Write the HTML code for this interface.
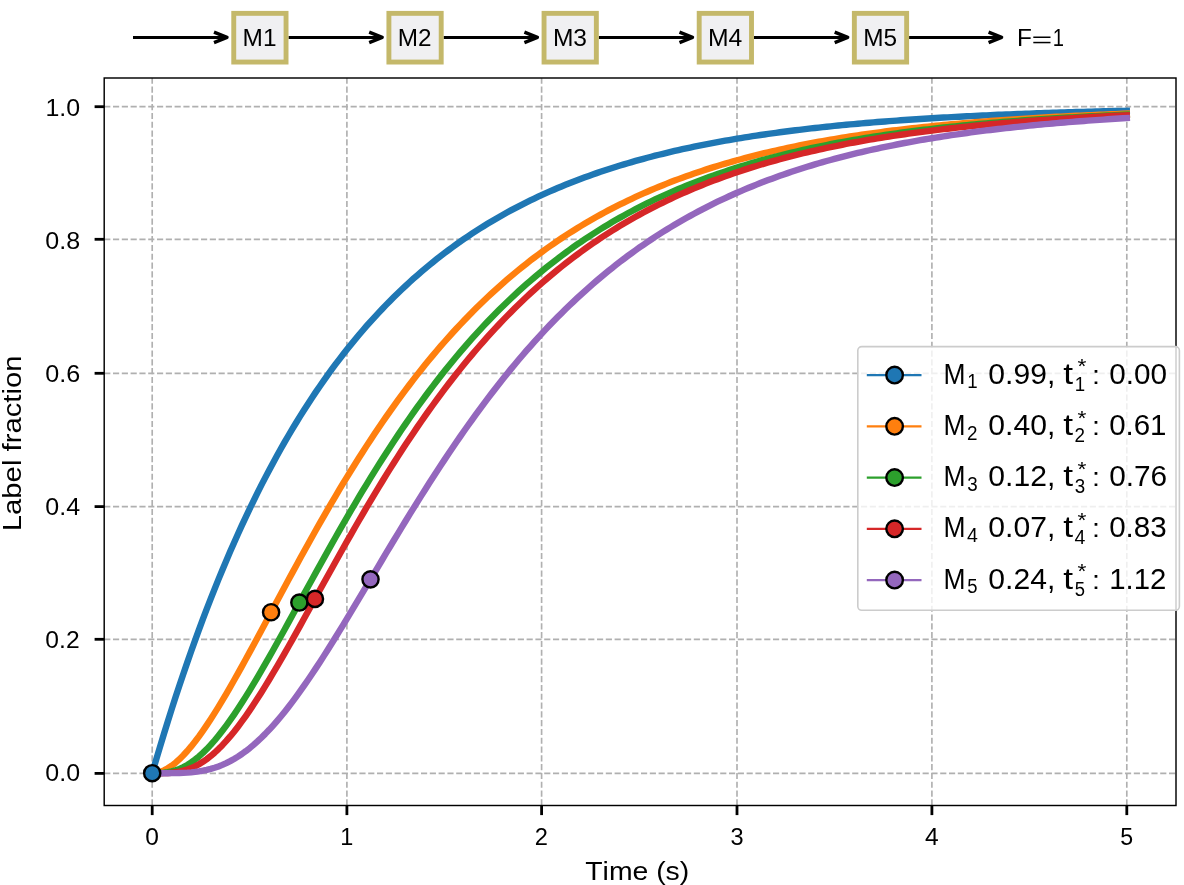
<!DOCTYPE html>
<html><head><meta charset="utf-8"><title>Label fraction</title>
<style>
html,body{margin:0;padding:0;background:#fff;}
body{width:1184px;height:885px;overflow:hidden;}
svg{display:block;will-change:transform;}
text{font-family:"Liberation Sans",sans-serif;font-kerning:none;}
</style></head><body>
<svg width="1184" height="885" viewBox="0 0 1184 885">
<rect width="1184" height="885" fill="#fff"/>
<line x1="133.0" y1="37.4" x2="226.0" y2="37.4" stroke="#000" stroke-width="3"/>
<polyline points="214.0,32.199999999999996 227.0,37.4 214.0,42.6" fill="none" stroke="#000" stroke-width="3.4" stroke-linejoin="round"/>
<line x1="288.5" y1="37.4" x2="381.2" y2="37.4" stroke="#000" stroke-width="3"/>
<polyline points="369.2,32.199999999999996 382.2,37.4 369.2,42.6" fill="none" stroke="#000" stroke-width="3.4" stroke-linejoin="round"/>
<line x1="443.6" y1="37.4" x2="536.4" y2="37.4" stroke="#000" stroke-width="3"/>
<polyline points="524.4,32.199999999999996 537.4,37.4 524.4,42.6" fill="none" stroke="#000" stroke-width="3.4" stroke-linejoin="round"/>
<line x1="598.8" y1="37.4" x2="691.5" y2="37.4" stroke="#000" stroke-width="3"/>
<polyline points="679.5,32.199999999999996 692.5,37.4 679.5,42.6" fill="none" stroke="#000" stroke-width="3.4" stroke-linejoin="round"/>
<line x1="754.0" y1="37.4" x2="846.7" y2="37.4" stroke="#000" stroke-width="3"/>
<polyline points="834.7,32.199999999999996 847.7,37.4 834.7,42.6" fill="none" stroke="#000" stroke-width="3.4" stroke-linejoin="round"/>
<line x1="909.1" y1="37.4" x2="1000.6" y2="37.4" stroke="#000" stroke-width="3"/>
<polyline points="988.6,32.199999999999996 1001.6,37.4 988.6,42.6" fill="none" stroke="#000" stroke-width="3.4" stroke-linejoin="round"/>
<rect x="233.75" y="13.35" width="52.30" height="48.70" fill="#f0f0f2" stroke="#c4b86a" stroke-width="4.9"/>
<text transform="translate(242.59,45.60) scale(1.0016,1)" font-size="24.40" fill="#000">M1</text>
<rect x="388.90" y="13.35" width="52.30" height="48.70" fill="#f0f0f2" stroke="#c4b86a" stroke-width="4.9"/>
<text transform="translate(397.75,45.60) scale(0.9968,1)" font-size="24.40" fill="#000">M2</text>
<rect x="544.05" y="13.35" width="52.30" height="48.70" fill="#f0f0f2" stroke="#c4b86a" stroke-width="4.9"/>
<text transform="translate(552.88,45.60) scale(1.0070,1)" font-size="24.40" fill="#000">M3</text>
<rect x="699.20" y="13.35" width="52.30" height="48.70" fill="#f0f0f2" stroke="#c4b86a" stroke-width="4.9"/>
<text transform="translate(708.01,45.60) scale(1.0135,1)" font-size="24.40" fill="#000">M4</text>
<rect x="854.35" y="13.35" width="52.30" height="48.70" fill="#f0f0f2" stroke="#c4b86a" stroke-width="4.9"/>
<text transform="translate(863.19,45.60) scale(0.9999,1)" font-size="24.40" fill="#000">M5</text>
<text transform="translate(1016.90,45.70) scale(0.9978,1)" font-size="24.40" fill="#000">F</text>
<rect x="1033.3" y="36.5" width="17.2" height="1.5" fill="#000"/>
<rect x="1033.3" y="41.8" width="17.2" height="1.5" fill="#000"/>
<text transform="translate(1052.76,45.70) scale(0.8270,1)" font-size="24.40" fill="#000">1</text>
<line x1="152.20" y1="805.45" x2="152.20" y2="78.0" stroke="#b0b0b0" stroke-width="1.66" stroke-dasharray="6.15 2.65"/>
<line x1="346.90" y1="805.45" x2="346.90" y2="78.0" stroke="#b0b0b0" stroke-width="1.66" stroke-dasharray="6.15 2.65"/>
<line x1="541.60" y1="805.45" x2="541.60" y2="78.0" stroke="#b0b0b0" stroke-width="1.66" stroke-dasharray="6.15 2.65"/>
<line x1="737.00" y1="805.45" x2="737.00" y2="78.0" stroke="#b0b0b0" stroke-width="1.66" stroke-dasharray="6.15 2.65"/>
<line x1="931.90" y1="805.45" x2="931.90" y2="78.0" stroke="#b0b0b0" stroke-width="1.66" stroke-dasharray="6.15 2.65"/>
<line x1="1126.80" y1="805.45" x2="1126.80" y2="78.0" stroke="#b0b0b0" stroke-width="1.66" stroke-dasharray="6.15 2.65"/>
<line x1="104.2" y1="773.40" x2="1176.0" y2="773.40" stroke="#b0b0b0" stroke-width="1.66" stroke-dasharray="6.15 2.65"/>
<line x1="104.2" y1="639.30" x2="1176.0" y2="639.30" stroke="#b0b0b0" stroke-width="1.66" stroke-dasharray="6.15 2.65"/>
<line x1="104.2" y1="506.60" x2="1176.0" y2="506.60" stroke="#b0b0b0" stroke-width="1.66" stroke-dasharray="6.15 2.65"/>
<line x1="104.2" y1="373.30" x2="1176.0" y2="373.30" stroke="#b0b0b0" stroke-width="1.66" stroke-dasharray="6.15 2.65"/>
<line x1="104.2" y1="239.30" x2="1176.0" y2="239.30" stroke="#b0b0b0" stroke-width="1.66" stroke-dasharray="6.15 2.65"/>
<line x1="104.2" y1="106.70" x2="1176.0" y2="106.70" stroke="#b0b0b0" stroke-width="1.66" stroke-dasharray="6.15 2.65"/>
<g fill="none" stroke-width="6.4" stroke-linejoin="round" stroke-linecap="square">
<polyline points="152.20,773.20 156.10,759.87 160.00,746.80 163.90,733.99 167.79,721.44 171.69,709.15 175.59,697.09 179.49,685.28 183.39,673.71 187.29,662.36 191.18,651.25 195.08,640.35 198.98,629.67 202.88,619.21 206.78,608.96 210.68,598.91 214.57,589.06 218.47,579.41 222.37,569.95 226.27,560.68 230.17,551.60 234.07,542.70 237.96,533.97 241.86,525.43 245.76,517.05 249.66,508.84 253.56,500.79 257.46,492.90 261.36,485.18 265.25,477.60 269.15,470.18 273.05,462.91 276.95,455.78 280.85,448.80 284.75,441.95 288.64,435.24 292.54,428.67 296.44,422.22 300.34,415.91 304.24,409.72 308.14,403.66 312.03,397.71 315.93,391.89 319.83,386.18 323.73,380.59 327.63,375.11 331.53,369.74 335.42,364.47 339.32,359.31 343.22,354.26 347.12,349.30 351.02,344.44 354.92,339.69 358.82,335.02 362.71,330.45 366.61,325.97 370.51,321.58 374.41,317.28 378.31,313.07 382.21,308.94 386.10,304.89 390.00,300.92 393.90,297.03 397.80,293.22 401.70,289.49 405.60,285.83 409.49,282.24 413.39,278.73 417.29,275.28 421.19,271.91 425.09,268.60 428.99,265.36 432.88,262.18 436.78,259.07 440.68,256.01 444.58,253.02 448.48,250.09 452.38,247.22 456.28,244.41 460.17,241.65 464.07,238.95 467.97,236.30 471.87,233.70 475.77,231.16 479.67,228.66 483.56,226.22 487.46,223.83 491.36,221.48 495.26,219.18 499.16,216.93 503.06,214.72 506.95,212.55 510.85,210.43 514.75,208.36 518.65,206.32 522.55,204.32 526.45,202.37 530.34,200.45 534.24,198.57 538.14,196.73 542.04,194.92 545.94,193.16 549.84,191.42 553.74,189.72 557.63,188.06 561.53,186.43 565.43,184.83 569.33,183.26 573.23,181.73 577.13,180.22 581.02,178.75 584.92,177.30 588.82,175.89 592.72,174.50 596.62,173.14 600.52,171.81 604.41,170.50 608.31,169.22 612.21,167.97 616.11,166.74 620.01,165.53 623.91,164.35 627.80,163.20 631.70,162.06 635.60,160.95 639.50,159.86 643.40,158.79 647.30,157.75 651.20,156.72 655.09,155.72 658.99,154.73 662.89,153.77 666.79,152.82 670.69,151.90 674.59,150.99 678.48,150.10 682.38,149.23 686.28,148.37 690.18,147.54 694.08,146.72 697.98,145.91 701.87,145.12 705.77,144.35 709.67,143.59 713.57,142.85 717.47,142.12 721.37,141.41 725.26,140.71 729.16,140.03 733.06,139.36 736.96,138.70 740.86,138.06 744.76,137.43 748.66,136.81 752.55,136.20 756.45,135.61 760.35,135.03 764.25,134.46 768.15,133.90 772.05,133.35 775.94,132.81 779.84,132.29 783.74,131.77 787.64,131.26 791.54,130.77 795.44,130.28 799.33,129.81 803.23,129.34 807.13,128.89 811.03,128.44 814.93,128.00 818.83,127.57 822.72,127.15 826.62,126.73 830.52,126.33 834.42,125.93 838.32,125.54 842.22,125.16 846.12,124.79 850.01,124.42 853.91,124.07 857.81,123.71 861.71,123.37 865.61,123.03 869.51,122.70 873.40,122.38 877.30,122.06 881.20,121.75 885.10,121.44 889.00,121.15 892.90,120.85 896.79,120.57 900.69,120.28 904.59,120.01 908.49,119.74 912.39,119.47 916.29,119.21 920.18,118.96 924.08,118.71 927.98,118.47 931.88,118.23 935.78,117.99 939.68,117.76 943.58,117.54 947.47,117.32 951.37,117.10 955.27,116.89 959.17,116.68 963.07,116.48 966.97,116.28 970.86,116.08 974.76,115.89 978.66,115.70 982.56,115.52 986.46,115.34 990.36,115.16 994.25,114.99 998.15,114.82 1002.05,114.65 1005.95,114.49 1009.85,114.33 1013.75,114.17 1017.64,114.02 1021.54,113.87 1025.44,113.72 1029.34,113.58 1033.24,113.44 1037.14,113.30 1041.04,113.16 1044.93,113.03 1048.83,112.90 1052.73,112.77 1056.63,112.64 1060.53,112.52 1064.43,112.40 1068.32,112.28 1072.22,112.17 1076.12,112.05 1080.02,111.94 1083.92,111.83 1087.82,111.73 1091.71,111.62 1095.61,111.52 1099.51,111.42 1103.41,111.32 1107.31,111.22 1111.21,111.13 1115.10,111.04 1119.00,110.95 1122.90,110.86 1126.80,110.77" stroke="#1f77b4"/>
<polyline points="152.20,773.20 156.10,772.87 160.00,771.91 163.90,770.37 167.79,768.29 171.69,765.70 175.59,762.65 179.49,759.16 183.39,755.27 187.29,751.01 191.18,746.41 195.08,741.50 198.98,736.31 202.88,730.85 206.78,725.15 210.68,719.24 214.57,713.12 218.47,706.84 222.37,700.39 226.27,693.80 230.17,687.08 234.07,680.25 237.96,673.33 241.86,666.32 245.76,659.25 249.66,652.11 253.56,644.92 257.46,637.70 261.36,630.45 265.25,623.17 269.15,615.89 273.05,608.61 276.95,601.32 280.85,594.05 284.75,586.80 288.64,579.57 292.54,572.37 296.44,565.20 300.34,558.07 304.24,550.99 308.14,543.95 312.03,536.96 315.93,530.02 319.83,523.15 323.73,516.33 327.63,509.57 331.53,502.88 335.42,496.26 339.32,489.70 343.22,483.22 347.12,476.81 351.02,470.47 354.92,464.21 358.82,458.02 362.71,451.91 366.61,445.87 370.51,439.92 374.41,434.04 378.31,428.24 382.21,422.52 386.10,416.88 390.00,411.32 393.90,405.84 397.80,400.44 401.70,395.12 405.60,389.88 409.49,384.71 413.39,379.63 417.29,374.62 421.19,369.70 425.09,364.85 428.99,360.07 432.88,355.37 436.78,350.75 440.68,346.20 444.58,341.73 448.48,337.33 452.38,333.01 456.28,328.75 460.17,324.57 464.07,320.46 467.97,316.42 471.87,312.45 475.77,308.55 479.67,304.71 483.56,300.94 487.46,297.24 491.36,293.60 495.26,290.03 499.16,286.52 503.06,283.07 506.95,279.68 510.85,276.35 514.75,273.09 518.65,269.88 522.55,266.73 526.45,263.64 530.34,260.60 534.24,257.62 538.14,254.70 542.04,251.83 545.94,249.01 549.84,246.24 553.74,243.53 557.63,240.86 561.53,238.24 565.43,235.68 569.33,233.16 573.23,230.69 577.13,228.26 581.02,225.88 584.92,223.55 588.82,221.26 592.72,219.01 596.62,216.81 600.52,214.65 604.41,212.52 608.31,210.44 612.21,208.40 616.11,206.40 620.01,204.44 623.91,202.51 627.80,200.62 631.70,198.77 635.60,196.95 639.50,195.17 643.40,193.42 647.30,191.70 651.20,190.02 655.09,188.37 658.99,186.76 662.89,185.17 666.79,183.62 670.69,182.09 674.59,180.60 678.48,179.13 682.38,177.69 686.28,176.28 690.18,174.90 694.08,173.55 697.98,172.22 701.87,170.92 705.77,169.64 709.67,168.39 713.57,167.16 717.47,165.96 721.37,164.78 725.26,163.62 729.16,162.49 733.06,161.37 736.96,160.28 740.86,159.22 744.76,158.17 748.66,157.14 752.55,156.14 756.45,155.15 760.35,154.18 764.25,153.23 768.15,152.30 772.05,151.39 775.94,150.50 779.84,149.62 783.74,148.76 787.64,147.92 791.54,147.10 795.44,146.29 799.33,145.50 803.23,144.72 807.13,143.96 811.03,143.21 814.93,142.48 818.83,141.77 822.72,141.06 826.62,140.37 830.52,139.70 834.42,139.04 838.32,138.39 842.22,137.75 846.12,137.13 850.01,136.52 853.91,135.92 857.81,135.33 861.71,134.76 865.61,134.19 869.51,133.64 873.40,133.10 877.30,132.57 881.20,132.05 885.10,131.54 889.00,131.04 892.90,130.55 896.79,130.07 900.69,129.60 904.59,129.14 908.49,128.69 912.39,128.24 916.29,127.81 920.18,127.38 924.08,126.97 927.98,126.56 931.88,126.16 935.78,125.77 939.68,125.38 943.58,125.00 947.47,124.63 951.37,124.27 955.27,123.92 959.17,123.57 963.07,123.23 966.97,122.89 970.86,122.57 974.76,122.25 978.66,121.93 982.56,121.62 986.46,121.32 990.36,121.02 994.25,120.73 998.15,120.45 1002.05,120.17 1005.95,119.90 1009.85,119.63 1013.75,119.37 1017.64,119.11 1021.54,118.86 1025.44,118.61 1029.34,118.37 1033.24,118.13 1037.14,117.90 1041.04,117.67 1044.93,117.45 1048.83,117.23 1052.73,117.02 1056.63,116.81 1060.53,116.60 1064.43,116.40 1068.32,116.20 1072.22,116.01 1076.12,115.82 1080.02,115.63 1083.92,115.45 1087.82,115.27 1091.71,115.09 1095.61,114.92 1099.51,114.75 1103.41,114.59 1107.31,114.43 1111.21,114.27 1115.10,114.11 1119.00,113.96 1122.90,113.81 1126.80,113.66" stroke="#ff7f0e"/>
<polyline points="152.20,773.20 156.10,773.18 160.00,773.07 163.90,772.78 167.79,772.25 171.69,771.44 175.59,770.33 179.49,768.88 183.39,767.08 187.29,764.94 191.18,762.44 195.08,759.60 198.98,756.41 202.88,752.90 206.78,749.07 210.68,744.93 214.57,740.51 218.47,735.81 222.37,730.85 226.27,725.66 230.17,720.24 234.07,714.61 237.96,708.79 241.86,702.80 245.76,696.64 249.66,690.34 253.56,683.90 257.46,677.35 261.36,670.69 265.25,663.94 269.15,657.10 273.05,650.20 276.95,643.24 280.85,636.23 284.75,629.19 288.64,622.11 292.54,615.01 296.44,607.90 300.34,600.78 304.24,593.66 308.14,586.56 312.03,579.46 315.93,572.39 319.83,565.34 323.73,558.33 327.63,551.34 331.53,544.40 335.42,537.51 339.32,530.66 343.22,523.86 347.12,517.11 351.02,510.42 354.92,503.79 358.82,497.23 362.71,490.73 366.61,484.29 370.51,477.92 374.41,471.62 378.31,465.39 382.21,459.24 386.10,453.16 390.00,447.15 393.90,441.21 397.80,435.36 401.70,429.58 405.60,423.87 409.49,418.24 413.39,412.70 417.29,407.22 421.19,401.83 425.09,396.51 428.99,391.27 432.88,386.11 436.78,381.03 440.68,376.02 444.58,371.09 448.48,366.23 452.38,361.45 456.28,356.75 460.17,352.12 464.07,347.57 467.97,343.09 471.87,338.68 475.77,334.34 479.67,330.08 483.56,325.89 487.46,321.76 491.36,317.71 495.26,313.73 499.16,309.81 503.06,305.96 506.95,302.18 510.85,298.46 514.75,294.81 518.65,291.22 522.55,287.70 526.45,284.23 530.34,280.83 534.24,277.49 538.14,274.21 542.04,270.99 545.94,267.82 549.84,264.71 553.74,261.66 557.63,258.67 561.53,255.73 565.43,252.84 569.33,250.01 573.23,247.22 577.13,244.49 581.02,241.81 584.92,239.18 588.82,236.60 592.72,234.07 596.62,231.58 600.52,229.14 604.41,226.75 608.31,224.40 612.21,222.10 616.11,219.84 620.01,217.62 623.91,215.44 627.80,213.31 631.70,211.21 635.60,209.16 639.50,207.14 643.40,205.17 647.30,203.23 651.20,201.32 655.09,199.46 658.99,197.63 662.89,195.83 666.79,194.07 670.69,192.35 674.59,190.66 678.48,189.00 682.38,187.37 686.28,185.77 690.18,184.20 694.08,182.67 697.98,181.16 701.87,179.69 705.77,178.24 709.67,176.82 713.57,175.43 717.47,174.06 721.37,172.73 725.26,171.41 729.16,170.13 733.06,168.87 736.96,167.63 740.86,166.42 744.76,165.23 748.66,164.06 752.55,162.92 756.45,161.80 760.35,160.70 764.25,159.63 768.15,158.57 772.05,157.54 775.94,156.52 779.84,155.53 783.74,154.55 787.64,153.60 791.54,152.66 795.44,151.74 799.33,150.84 803.23,149.96 807.13,149.10 811.03,148.25 814.93,147.42 818.83,146.60 822.72,145.81 826.62,145.02 830.52,144.26 834.42,143.50 838.32,142.77 842.22,142.04 846.12,141.34 850.01,140.64 853.91,139.96 857.81,139.29 861.71,138.64 865.61,138.00 869.51,137.37 873.40,136.76 877.30,136.15 881.20,135.56 885.10,134.98 889.00,134.41 892.90,133.86 896.79,133.31 900.69,132.78 904.59,132.25 908.49,131.74 912.39,131.24 916.29,130.74 920.18,130.26 924.08,129.78 927.98,129.32 931.88,128.86 935.78,128.42 939.68,127.98 943.58,127.55 947.47,127.13 951.37,126.72 955.27,126.31 959.17,125.92 963.07,125.53 966.97,125.15 970.86,124.78 974.76,124.41 978.66,124.06 982.56,123.71 986.46,123.36 990.36,123.02 994.25,122.69 998.15,122.37 1002.05,122.05 1005.95,121.74 1009.85,121.44 1013.75,121.14 1017.64,120.85 1021.54,120.56 1025.44,120.28 1029.34,120.00 1033.24,119.74 1037.14,119.47 1041.04,119.21 1044.93,118.96 1048.83,118.71 1052.73,118.46 1056.63,118.23 1060.53,117.99 1064.43,117.76 1068.32,117.54 1072.22,117.32 1076.12,117.10 1080.02,116.89 1083.92,116.68 1087.82,116.48 1091.71,116.28 1095.61,116.08 1099.51,115.89 1103.41,115.70 1107.31,115.52 1111.21,115.34 1115.10,115.16 1119.00,114.99 1122.90,114.82 1126.80,114.65" stroke="#2ca02c"/>
<polyline points="152.20,773.20 156.10,773.20 160.00,773.18 163.90,773.12 167.79,772.97 171.69,772.69 175.59,772.24 179.49,771.59 183.39,770.69 187.29,769.52 191.18,768.06 195.08,766.30 198.98,764.23 202.88,761.84 206.78,759.12 210.68,756.09 214.57,752.75 218.47,749.10 222.37,745.16 226.27,740.93 230.17,736.43 234.07,731.68 237.96,726.69 241.86,721.46 245.76,716.02 249.66,710.39 253.56,704.57 257.46,698.58 261.36,692.44 265.25,686.16 269.15,679.75 273.05,673.22 276.95,666.60 280.85,659.88 284.75,653.09 288.64,646.23 292.54,639.31 296.44,632.34 300.34,625.34 304.24,618.31 308.14,611.26 312.03,604.20 315.93,597.13 319.83,590.06 323.73,583.01 327.63,575.96 331.53,568.94 335.42,561.94 339.32,554.98 343.22,548.05 347.12,541.16 351.02,534.31 354.92,527.51 358.82,520.76 362.71,514.06 366.61,507.42 370.51,500.84 374.41,494.33 378.31,487.87 382.21,481.48 386.10,475.16 390.00,468.91 393.90,462.73 397.80,456.62 401.70,450.58 405.60,444.61 409.49,438.73 413.39,432.91 417.29,427.17 421.19,421.51 425.09,415.93 428.99,410.42 432.88,404.99 436.78,399.63 440.68,394.35 444.58,389.15 448.48,384.03 452.38,378.98 456.28,374.01 460.17,369.12 464.07,364.30 467.97,359.56 471.87,354.89 475.77,350.29 479.67,345.77 483.56,341.33 487.46,336.95 491.36,332.65 495.26,328.42 499.16,324.25 503.06,320.16 506.95,316.14 510.85,312.18 514.75,308.30 518.65,304.48 522.55,300.72 526.45,297.03 530.34,293.41 534.24,289.85 538.14,286.35 542.04,282.91 545.94,279.53 549.84,276.22 553.74,272.96 557.63,269.76 561.53,266.62 565.43,263.54 569.33,260.51 573.23,257.53 577.13,254.62 581.02,251.75 584.92,248.94 588.82,246.18 592.72,243.47 596.62,240.81 600.52,238.20 604.41,235.63 608.31,233.12 612.21,230.65 616.11,228.23 620.01,225.85 623.91,223.52 627.80,221.24 631.70,218.99 635.60,216.79 639.50,214.63 643.40,212.51 647.30,210.43 651.20,208.39 655.09,206.39 658.99,204.43 662.89,202.51 666.79,200.62 670.69,198.77 674.59,196.95 678.48,195.17 682.38,193.42 686.28,191.71 690.18,190.03 694.08,188.38 697.98,186.76 701.87,185.18 705.77,183.63 709.67,182.10 713.57,180.61 717.47,179.14 721.37,177.71 725.26,176.30 729.16,174.92 733.06,173.56 736.96,172.23 740.86,170.93 744.76,169.65 748.66,168.40 752.55,167.17 756.45,165.97 760.35,164.79 764.25,163.64 768.15,162.50 772.05,161.39 775.94,160.30 779.84,159.23 783.74,158.18 787.64,157.16 791.54,156.15 795.44,155.16 799.33,154.20 803.23,153.25 807.13,152.32 811.03,151.41 814.93,150.51 818.83,149.64 822.72,148.78 826.62,147.94 830.52,147.11 834.42,146.31 838.32,145.51 842.22,144.74 846.12,143.97 850.01,143.23 853.91,142.50 857.81,141.78 861.71,141.08 865.61,140.39 869.51,139.71 873.40,139.05 877.30,138.40 881.20,137.77 885.10,137.14 889.00,136.53 892.90,135.93 896.79,135.35 900.69,134.77 904.59,134.21 908.49,133.65 912.39,133.11 916.29,132.58 920.18,132.06 924.08,131.55 927.98,131.05 931.88,130.56 935.78,130.08 939.68,129.61 943.58,129.15 947.47,128.70 951.37,128.25 955.27,127.82 959.17,127.39 963.07,126.98 966.97,126.57 970.86,126.17 974.76,125.77 978.66,125.39 982.56,125.01 986.46,124.64 990.36,124.28 994.25,123.93 998.15,123.58 1002.05,123.24 1005.95,122.90 1009.85,122.57 1013.75,122.25 1017.64,121.94 1021.54,121.63 1025.44,121.33 1029.34,121.03 1033.24,120.74 1037.14,120.46 1041.04,120.18 1044.93,119.90 1048.83,119.64 1052.73,119.37 1056.63,119.12 1060.53,118.86 1064.43,118.62 1068.32,118.38 1072.22,118.14 1076.12,117.91 1080.02,117.68 1083.92,117.45 1087.82,117.24 1091.71,117.02 1095.61,116.81 1099.51,116.60 1103.41,116.40 1107.31,116.20 1111.21,116.01 1115.10,115.82 1119.00,115.63 1122.90,115.45 1126.80,115.27" stroke="#d62728"/>
<polyline points="152.20,773.20 156.10,773.20 160.00,773.20 163.90,773.20 167.79,773.18 171.69,773.16 175.59,773.10 179.49,773.01 183.39,772.86 187.29,772.64 191.18,772.33 195.08,771.92 198.98,771.39 202.88,770.72 206.78,769.91 210.68,768.92 214.57,767.76 218.47,766.42 222.37,764.87 226.27,763.13 230.17,761.17 234.07,759.00 237.96,756.62 241.86,754.02 245.76,751.19 249.66,748.15 253.56,744.90 257.46,741.43 261.36,737.76 265.25,733.88 269.15,729.81 273.05,725.54 276.95,721.09 280.85,716.46 284.75,711.66 288.64,706.70 292.54,701.59 296.44,696.33 300.34,690.93 304.24,685.40 308.14,679.75 312.03,673.99 315.93,668.12 319.83,662.16 323.73,656.11 327.63,649.98 331.53,643.77 335.42,637.51 339.32,631.18 343.22,624.81 347.12,618.39 351.02,611.94 354.92,605.45 358.82,598.95 362.71,592.42 366.61,585.89 370.51,579.35 374.41,572.81 378.31,566.27 382.21,559.74 386.10,553.23 390.00,546.73 393.90,540.26 397.80,533.81 401.70,527.39 405.60,521.01 409.49,514.66 413.39,508.35 417.29,502.09 421.19,495.87 425.09,489.70 428.99,483.58 432.88,477.51 436.78,471.49 440.68,465.53 444.58,459.63 448.48,453.78 452.38,448.00 456.28,442.28 460.17,436.62 464.07,431.03 467.97,425.50 471.87,420.04 475.77,414.64 479.67,409.32 483.56,404.05 487.46,398.86 491.36,393.74 495.26,388.68 499.16,383.69 503.06,378.77 506.95,373.92 510.85,369.14 514.75,364.43 518.65,359.79 522.55,355.21 526.45,350.71 530.34,346.27 534.24,341.90 538.14,337.59 542.04,333.35 545.94,329.18 549.84,325.08 553.74,321.04 557.63,317.07 561.53,313.16 565.43,309.31 569.33,305.53 573.23,301.81 577.13,298.15 581.02,294.55 584.92,291.01 588.82,287.54 592.72,284.12 596.62,280.76 600.52,277.46 604.41,274.22 608.31,271.03 612.21,267.90 616.11,264.82 620.01,261.80 623.91,258.83 627.80,255.91 631.70,253.05 635.60,250.24 639.50,247.48 643.40,244.76 647.30,242.10 651.20,239.49 655.09,236.92 658.99,234.40 662.89,231.92 666.79,229.49 670.69,227.11 674.59,224.77 678.48,222.47 682.38,220.22 686.28,218.01 690.18,215.84 694.08,213.71 697.98,211.61 701.87,209.56 705.77,207.55 709.67,205.58 713.57,203.64 717.47,201.74 721.37,199.87 725.26,198.04 729.16,196.25 733.06,194.49 736.96,192.76 740.86,191.07 744.76,189.40 748.66,187.77 752.55,186.18 756.45,184.61 760.35,183.07 764.25,181.56 768.15,180.08 772.05,178.63 775.94,177.21 779.84,175.81 783.74,174.44 787.64,173.10 791.54,171.79 795.44,170.50 799.33,169.23 803.23,167.99 807.13,166.77 811.03,165.58 814.93,164.41 818.83,163.26 822.72,162.14 826.62,161.04 830.52,159.96 834.42,158.90 838.32,157.86 842.22,156.84 846.12,155.84 850.01,154.86 853.91,153.90 857.81,152.96 861.71,152.04 865.61,151.13 869.51,150.25 873.40,149.38 877.30,148.53 881.20,147.69 885.10,146.87 889.00,146.07 892.90,145.28 896.79,144.51 900.69,143.75 904.59,143.01 908.49,142.29 912.39,141.57 916.29,140.88 920.18,140.19 924.08,139.52 927.98,138.86 931.88,138.22 935.78,137.59 939.68,136.97 943.58,136.36 947.47,135.77 951.37,135.18 955.27,134.61 959.17,134.05 963.07,133.50 966.97,132.96 970.86,132.44 974.76,131.92 978.66,131.41 982.56,130.91 986.46,130.43 990.36,129.95 994.25,129.48 998.15,129.02 1002.05,128.57 1005.95,128.13 1009.85,127.70 1013.75,127.28 1017.64,126.86 1021.54,126.46 1025.44,126.06 1029.34,125.67 1033.24,125.29 1037.14,124.91 1041.04,124.54 1044.93,124.18 1048.83,123.83 1052.73,123.48 1056.63,123.15 1060.53,122.81 1064.43,122.49 1068.32,122.17 1072.22,121.86 1076.12,121.55 1080.02,121.25 1083.92,120.95 1087.82,120.66 1091.71,120.38 1095.61,120.10 1099.51,119.83 1103.41,119.57 1107.31,119.31 1111.21,119.05 1115.10,118.80 1119.00,118.55 1122.90,118.31 1126.80,118.08" stroke="#9467bd"/>
</g>
<circle cx="152.20" cy="773.20" r="8.1" fill="#1f77b4" stroke="#000" stroke-width="2.4"/>
<circle cx="271.10" cy="612.25" r="8.1" fill="#ff7f0e" stroke="#000" stroke-width="2.4"/>
<circle cx="299.36" cy="602.56" r="8.1" fill="#2ca02c" stroke="#000" stroke-width="2.4"/>
<circle cx="314.96" cy="598.90" r="8.1" fill="#d62728" stroke="#000" stroke-width="2.4"/>
<circle cx="370.51" cy="579.35" r="8.1" fill="#9467bd" stroke="#000" stroke-width="2.4"/>
<rect x="104.2" y="78.0" width="1071.8" height="727.5" fill="none" stroke="#000" stroke-width="1.45"/>
<line x1="152.20" y1="805.45" x2="152.20" y2="815.1" stroke="#000" stroke-width="2.8"/>
<line x1="346.90" y1="805.45" x2="346.90" y2="815.1" stroke="#000" stroke-width="2.8"/>
<line x1="541.60" y1="805.45" x2="541.60" y2="815.1" stroke="#000" stroke-width="2.8"/>
<line x1="737.00" y1="805.45" x2="737.00" y2="815.1" stroke="#000" stroke-width="2.8"/>
<line x1="931.90" y1="805.45" x2="931.90" y2="815.1" stroke="#000" stroke-width="2.8"/>
<line x1="1126.80" y1="805.45" x2="1126.80" y2="815.1" stroke="#000" stroke-width="2.8"/>
<line x1="104.2" y1="773.40" x2="94.6" y2="773.40" stroke="#000" stroke-width="2.8"/>
<line x1="104.2" y1="639.30" x2="94.6" y2="639.30" stroke="#000" stroke-width="2.8"/>
<line x1="104.2" y1="506.60" x2="94.6" y2="506.60" stroke="#000" stroke-width="2.8"/>
<line x1="104.2" y1="373.30" x2="94.6" y2="373.30" stroke="#000" stroke-width="2.8"/>
<line x1="104.2" y1="239.30" x2="94.6" y2="239.30" stroke="#000" stroke-width="2.8"/>
<line x1="104.2" y1="106.70" x2="94.6" y2="106.70" stroke="#000" stroke-width="2.8"/>
<text transform="translate(45.32,780.95) scale(1.0506,1)" font-size="23.80" fill="#000">0.0</text>
<text transform="translate(45.34,647.92) scale(1.0352,1)" font-size="23.80" fill="#000">0.2</text>
<text transform="translate(45.32,514.89) scale(1.0501,1)" font-size="23.80" fill="#000">0.4</text>
<text transform="translate(45.32,381.86) scale(1.0570,1)" font-size="23.80" fill="#000">0.6</text>
<text transform="translate(45.32,248.83) scale(1.0527,1)" font-size="23.80" fill="#000">0.8</text>
<text transform="translate(45.39,115.80) scale(1.0486,1)" font-size="23.80" fill="#000">1.0</text>
<text transform="translate(145.36,844.70) scale(1.0320,1)" font-size="23.80" fill="#000">0</text>
<text transform="translate(340.26,844.70) scale(0.9856,1)" font-size="23.80" fill="#000">1</text>
<text transform="translate(534.70,844.70) scale(0.9947,1)" font-size="23.80" fill="#000">2</text>
<text transform="translate(730.46,844.70) scale(0.9911,1)" font-size="23.80" fill="#000">3</text>
<text transform="translate(925.06,844.70) scale(1.0321,1)" font-size="23.80" fill="#000">4</text>
<text transform="translate(1120.26,844.70) scale(0.9740,1)" font-size="23.80" fill="#000">5</text>
<text transform="translate(585.26,879.60) scale(1.0911,1)" font-size="26.00" fill="#000">Time (s)</text>
<text transform="translate(21.20,531.20) rotate(-90) scale(1.1262,1)" font-size="26.0" fill="#000">Label fraction</text>
<rect x="857.8" y="346.6" width="321.6" height="263.7" rx="4" ry="4" fill="#fff" fill-opacity="0.8" stroke="#cccccc" stroke-width="1.6"/>
<line x1="866.8" y1="375.10" x2="921.5" y2="375.10" stroke="#1f77b4" stroke-width="2.1"/>
<circle cx="894.6" cy="375.10" r="8.3" fill="#1f77b4" stroke="#000" stroke-width="2.4"/>
<text transform="translate(943.43,383.60) scale(0.9111,1)" font-size="29.00" fill="#000">M</text>
<text transform="translate(967.18,388.30) scale(0.9529,1)" font-size="19.60" fill="#000">1</text>
<text transform="translate(988.32,383.60) scale(1.0384,1)" font-size="29.00" fill="#000">0.99,</text>
<text transform="translate(1063.17,383.60) scale(1.2213,1)" font-size="29.00" fill="#000">t</text>
<text transform="translate(1074.68,390.70) scale(0.9529,1)" font-size="19.60" fill="#000">1</text>
<text transform="translate(1077.53,373.47) scale(1.1662,1)" font-size="19.60" fill="#000">*</text>
<text transform="translate(1091.98,383.60) scale(1.1470,1)" font-size="25.00" fill="#000">:</text>
<text transform="translate(1109.14,383.60) scale(1.0244,1)" font-size="29.00" fill="#000">0.00</text>
<line x1="866.8" y1="426.35" x2="921.5" y2="426.35" stroke="#ff7f0e" stroke-width="2.1"/>
<circle cx="894.6" cy="426.35" r="8.3" fill="#ff7f0e" stroke="#000" stroke-width="2.4"/>
<text transform="translate(943.43,434.85) scale(0.9111,1)" font-size="29.00" fill="#000">M</text>
<text transform="translate(966.97,439.55) scale(0.9616,1)" font-size="19.60" fill="#000">2</text>
<text transform="translate(988.32,434.85) scale(1.0384,1)" font-size="29.00" fill="#000">0.40,</text>
<text transform="translate(1063.17,434.85) scale(1.2213,1)" font-size="29.00" fill="#000">t</text>
<text transform="translate(1074.47,441.95) scale(0.9616,1)" font-size="19.60" fill="#000">2</text>
<text transform="translate(1077.53,424.72) scale(1.1662,1)" font-size="19.60" fill="#000">*</text>
<text transform="translate(1091.98,434.85) scale(1.1470,1)" font-size="25.00" fill="#000">:</text>
<text transform="translate(1109.14,434.85) scale(1.0170,1)" font-size="29.00" fill="#000">0.61</text>
<line x1="866.8" y1="477.60" x2="921.5" y2="477.60" stroke="#2ca02c" stroke-width="2.1"/>
<circle cx="894.6" cy="477.60" r="8.3" fill="#2ca02c" stroke="#000" stroke-width="2.4"/>
<text transform="translate(943.43,486.10) scale(0.9111,1)" font-size="29.00" fill="#000">M</text>
<text transform="translate(967.26,490.80) scale(0.9581,1)" font-size="19.60" fill="#000">3</text>
<text transform="translate(988.32,486.10) scale(1.0384,1)" font-size="29.00" fill="#000">0.12,</text>
<text transform="translate(1063.17,486.10) scale(1.2213,1)" font-size="29.00" fill="#000">t</text>
<text transform="translate(1074.76,493.20) scale(0.9581,1)" font-size="19.60" fill="#000">3</text>
<text transform="translate(1077.53,475.97) scale(1.1662,1)" font-size="19.60" fill="#000">*</text>
<text transform="translate(1091.98,486.10) scale(1.1470,1)" font-size="25.00" fill="#000">:</text>
<text transform="translate(1109.13,486.10) scale(1.0287,1)" font-size="29.00" fill="#000">0.76</text>
<line x1="866.8" y1="528.85" x2="921.5" y2="528.85" stroke="#d62728" stroke-width="2.1"/>
<circle cx="894.6" cy="528.85" r="8.3" fill="#d62728" stroke="#000" stroke-width="2.4"/>
<text transform="translate(943.43,537.35) scale(0.9111,1)" font-size="29.00" fill="#000">M</text>
<text transform="translate(967.02,542.05) scale(0.9978,1)" font-size="19.60" fill="#000">4</text>
<text transform="translate(988.32,537.35) scale(1.0384,1)" font-size="29.00" fill="#000">0.07,</text>
<text transform="translate(1063.17,537.35) scale(1.2213,1)" font-size="29.00" fill="#000">t</text>
<text transform="translate(1074.52,544.45) scale(0.9978,1)" font-size="19.60" fill="#000">4</text>
<text transform="translate(1077.53,527.22) scale(1.1662,1)" font-size="19.60" fill="#000">*</text>
<text transform="translate(1091.98,537.35) scale(1.1470,1)" font-size="25.00" fill="#000">:</text>
<text transform="translate(1109.14,537.35) scale(1.0204,1)" font-size="29.00" fill="#000">0.83</text>
<line x1="866.8" y1="580.10" x2="921.5" y2="580.10" stroke="#9467bd" stroke-width="2.1"/>
<circle cx="894.6" cy="580.10" r="8.3" fill="#9467bd" stroke="#000" stroke-width="2.4"/>
<text transform="translate(943.43,588.60) scale(0.9111,1)" font-size="29.00" fill="#000">M</text>
<text transform="translate(967.25,593.30) scale(0.9416,1)" font-size="19.60" fill="#000">5</text>
<text transform="translate(988.32,588.60) scale(1.0384,1)" font-size="29.00" fill="#000">0.24,</text>
<text transform="translate(1063.17,588.60) scale(1.2213,1)" font-size="29.00" fill="#000">t</text>
<text transform="translate(1074.75,595.70) scale(0.9416,1)" font-size="19.60" fill="#000">5</text>
<text transform="translate(1077.53,578.47) scale(1.1662,1)" font-size="19.60" fill="#000">*</text>
<text transform="translate(1091.98,588.60) scale(1.1470,1)" font-size="25.00" fill="#000">:</text>
<text transform="translate(1109.22,588.60) scale(1.0126,1)" font-size="29.00" fill="#000">1.12</text>
</svg>
</body></html>
